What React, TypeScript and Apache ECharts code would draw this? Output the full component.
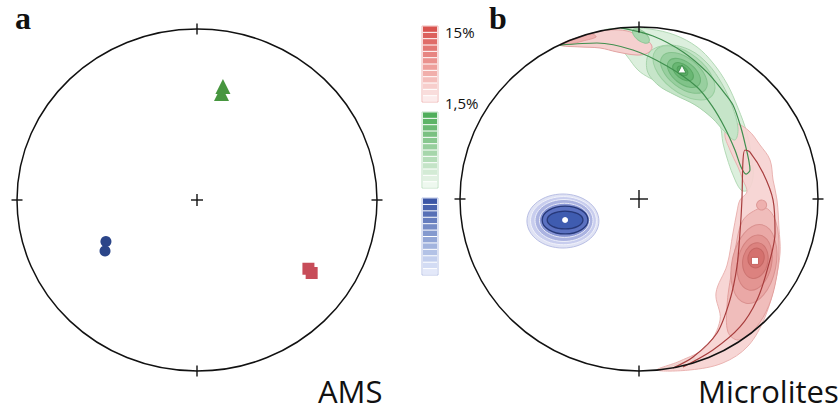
import React, { useEffect, useRef } from "react";
import * as echarts from "echarts";

// Projection units: the primitive circle has radius 100 in both panels.
const PROJ_R = 100;
const CENTER = [0, 0];

// ---- Panel a: AMS principal axes ----
const amsGreen = [[14.4, 66.4], [13.6, 62.3]];
const amsBlue = [[-50.6, -24.3], [-51.1, -29.8]];
const amsRed = [[61.9, -40.2], [63.7, -42.7]];

// ---- Panel b: microlite orientation density contours ----
const greenOuter = [[-20.1, 97.7], [-7.8, 99.4], [6.1, 98.8], [20.1, 95.3], [32.4, 88.4], [41.3, 79.1], [49.2, 66.9], [55.3, 52.9], [60.3, 38.4], [63.1, 23.8], [63.7, 12.2], [60.9, 5.2], [57.0, 5.2], [52.5, 14.0], [49.2, 23.8], [46.9, 32.6], [45.3, 43.0], [40.8, 51.2], [30.2, 57.0], [19.0, 64.0], [6.1, 70.3], [-0.6, 75.0], [-6.7, 83.1], [-13.4, 91.3]];
const greenMid = [[6.1, 85.5], [16.2, 89.5], [28.5, 86.6], [38.5, 78.5], [46.4, 66.9], [52.0, 54.1], [55.3, 41.3], [53.6, 34.3], [48.0, 39.0], [40.8, 47.1], [31.3, 54.7], [20.1, 60.5], [10.6, 66.3], [4.5, 75.0]];
const greenBottom = [[10.1, -99.4], [18.4, -97.1], [27.4, -93.6], [31.3, -92.4], [30.2, -95.3], [22.9, -97.7]];
const redOuter = [[52.5, 44.2], [60.9, 40.1], [67.6, 31.4], [73.2, 22.7], [74.9, 11.0], [77.1, -0.6], [78.2, -16.9], [78.8, -31.4], [76.0, -48.8], [70.4, -68.6], [60.9, -85.5], [46.9, -95.3], [28.5, -99.4], [10.1, -99.4], [22.9, -94.2], [37.4, -86.0], [45.3, -70.3], [43.0, -54.7], [49.2, -38.4], [52.5, -19.8], [54.7, -7.6], [56.4, -0.6], [60.3, 4.1], [58.1, 11.0], [55.3, 18.6], [50.8, 28.5], [48.0, 38.4]];
const redMid = [[63.1, -7.6], [70.9, -5.2], [76.5, -13.4], [78.2, -29.7], [76.0, -50.0], [70.9, -65.7], [63.1, -77.3], [55.3, -82.0], [49.7, -77.3], [49.2, -61.6], [51.4, -44.2], [54.2, -26.7], [57.5, -13.4]];
const redTongue = [[-44.1, 89.5], [-36.9, 93.0], [-25.7, 96.5], [-16.2, 98.3], [-6.7, 97.7], [-1.1, 95.3], [4.5, 92.4], [7.3, 88.4], [5.0, 84.9], [-1.1, 83.7], [-12.3, 85.5], [-21.8, 87.8], [-33.0, 88.4]];
const redTongueCore = [[-42.5, 90.1], [-34.6, 93.2], [-26.3, 95.9], [-24.0, 94.2], [-31.3, 91.9], [-38.5, 90.1]];

// ellipse levels: [cx, cy, rx, ry]
const blueLevels = [[-42.5, -12.8, 20.1, 15.7], [-42.2, -12.6, 18.4, 14.0], [-41.9, -12.5, 16.2, 12.2], [-41.6, -12.4, 14.0, 9.9], [-41.3, -12.2, 12.8, 8.1], [-41.3, -12.2, 10.0, 5.2]];
const greenCore = [[1.1, 94.8, 5.6, 2.9], [25.1, 73.3, 20.2, 11.4], [25.1, 73.3, 15.2, 8.6], [25.1, 73.3, 10.7, 6.3], [24.6, 74.0, 6.7, 4.0], [24.3, 74.5, 3.4, 2.3]];
const redCore = [[68.5, -3.5, 2.8, 2.9], [64.2, -37.8, 12.3, 23.3], [64.6, -37.0, 9.5, 16.3], [65.0, -35.8, 7.0, 10.5], [65.4, -34.3, 4.5, 5.8]];

// great-circle / cone traces
const greenTraceA = [[-10.1, 99.5], [7.8, 94.8], [24.6, 85.5], [38.0, 73.8], [46.4, 63.4], [52.5, 54.7], [57.0, 41.3], [59.8, 29.7], [61.5, 21.5], [62.0, 16.9], [59.8, 14.5], [57.0, 18.6], [53.6, 28.5], [48.0, 41.3], [40.8, 54.1], [32.4, 65.1], [15.6, 77.3], [-3.4, 86.6], [-23.5, 90.7], [-44.1, 89.5]];
const redTrace = [[19.0, -98.3], [30.2, -91.9], [43.6, -77.9], [50.8, -58.7], [54.7, -39.5], [56.4, -19.8], [57.5, -0.6], [58.1, 22.7], [59.2, 28.5], [62.0, 27.3], [69.3, 15.1], [74.9, -0.6], [76.0, -19.8], [72.1, -39.5], [65.9, -58.7], [56.4, -74.4], [41.3, -87.8], [24.6, -97.7]];

// mean directions in panel b
const meanGreen = [[24.0, 75.6]];
const meanRed = [[64.8, -36.0]];
const meanBlue = [[-41.3, -12.2]];

// colour scales of the legend bars (top = 15%, bottom = 1,5%)
const redScale = ["#d9534f", "#dc605c", "#e06c68", "#e37874", "#e78581", "#ea928e", "#eea09c", "#f1afab", "#f4bebb", "#f7cecc", "#f9dddc", "#fcebeb"];
const greenScale = ["#4fae5a", "#5db466", "#6bba73", "#7ac181", "#88c88f", "#97cf9d", "#a6d6ab", "#b5ddb9", "#c4e4c7", "#d3ebd5", "#e1f1e2", "#eef8ef"];
const blueScale = ["#3c56a6", "#4a63ae", "#5870b6", "#667dbe", "#758bc6", "#8499ce", "#93a6d6", "#a3b4de", "#b3c2e6", "#c3cfee", "#d3dcf4", "#e3e8f9"];
const scaleLabels = ["15%", "1,5%"];
const panelLabels = ["a", "b"];
const panelTitles = ["AMS", "Microlites"];

const R = 1; // right panel axis index

function polySeries(pts: number[][], fill: string, stroke: string, z: number, opacity = 1) {
  return {
    type: "custom",
    xAxisIndex: R,
    yAxisIndex: R,
    data: pts,
    z,
    silent: true,
    renderItem: (params: any, api: any) => {
      if (params.dataIndex !== 0) return null;
      const points = pts.map((p) => api.coord(p));
      return {
        type: "polygon",
        shape: { points, smooth: 0.35 },
        style: { fill, stroke, lineWidth: 1, opacity },
      };
    },
  };
}

function ellipseSeries(items: number[][], fills: string[], strokes: string[], rotation: number, z: number, widths?: number[]) {
  return {
    type: "custom",
    xAxisIndex: R,
    yAxisIndex: R,
    data: items,
    z,
    silent: true,
    renderItem: (params: any, api: any) => {
      const i = params.dataIndex;
      const c = api.coord([api.value(0), api.value(1)]);
      const s = api.size([api.value(2), api.value(3)]);
      return {
        type: "ellipse",
        x: c[0],
        y: c[1],
        rotation,
        shape: { cx: 0, cy: 0, rx: s[0], ry: s[1] },
        style: { fill: fills[i], stroke: strokes[i], lineWidth: widths ? widths[i] : 1 },
      };
    },
  };
}

function traceSeries(pts: number[][], color: string, z: number) {
  return {
    type: "line",
    xAxisIndex: R,
    yAxisIndex: R,
    data: pts,
    showSymbol: false,
    smooth: 0.3,
    z,
    silent: true,
    lineStyle: { color, width: 1.2 },
  };
}

function frameSeries(idx: number, cross: number) {
  return {
    type: "custom",
    xAxisIndex: idx,
    yAxisIndex: idx,
    data: [CENTER],
    z: 20,
    silent: true,
    renderItem: (params: any, api: any) => {
      const c = api.coord(CENTER);
      const s = api.size([PROJ_R, PROJ_R]);
      const rx = s[0];
      const ry = s[1];
      const t = 5.5;
      const st = { stroke: "#111", lineWidth: 1.4 };
      const ln = (x1: number, y1: number, x2: number, y2: number) => ({ type: "line", shape: { x1, y1, x2, y2 }, style: st });
      return {
        type: "group",
        children: [
          { type: "ellipse", shape: { cx: c[0], cy: c[1], rx, ry }, style: { fill: "none", stroke: "#111", lineWidth: 1.5 } },
          ln(c[0], c[1] - ry - t, c[0], c[1] - ry + t),
          ln(c[0], c[1] + ry - t, c[0], c[1] + ry + t),
          ln(c[0] - rx - t, c[1], c[0] - rx + t, c[1]),
          ln(c[0] + rx - t, c[1], c[0] + rx + t, c[1]),
          ln(c[0] - cross, c[1], c[0] + cross, c[1]),
          ln(c[0], c[1] - cross, c[0], c[1] + cross),
        ],
      };
    },
  };
}

function colorBar(colors: string[], x: number, y: number, w: number, h: number, border: string) {
  const n = colors.length;
  const seg = h / n;
  const children: any[] = [
    { type: "rect", shape: { x, y, width: w, height: h }, style: { fill: "#fff", stroke: border, lineWidth: 1 } },
  ];
  colors.forEach((c, i) => {
    children.push({ type: "rect", shape: { x: x + 1, y: y + i * seg + 0.5, width: w - 2, height: seg - 1 }, style: { fill: c } });
  });
  return { type: "group", children };
}

export default function App() {
  const ref = useRef<HTMLDivElement>(null);
  useEffect(() => {
    if (!ref.current) return;
    const chart = echarts.init(ref.current, null, { renderer: "svg" });
    const axis = (g: number) => ({ type: "value", gridIndex: g, min: -PROJ_R, max: PROJ_R, show: false });
    const sans = '"Open Sans", "Liberation Sans", sans-serif';
    const serif = 'bold 32px "Liberation Serif", "DejaVu Serif", serif';
    const txt = (text: string, x: number, y: number, font: string) => ({
      type: "text",
      x,
      y,
      style: { text, font, fill: "#111", textAlign: "left", textVerticalAlign: "middle", verticalAlign: "middle" },
    });
    chart.setOption({
      animation: false,
      backgroundColor: "#fff",
      grid: [
        { left: 17, top: 29, width: 360, height: 342, containLabel: false },
        { left: 460, top: 27, width: 358, height: 344, containLabel: false },
      ],
      xAxis: [axis(0), axis(1)],
      yAxis: [axis(0), axis(1)],
      series: [
        // panel a
        { type: "scatter", xAxisIndex: 0, yAxisIndex: 0, data: amsGreen, symbol: "triangle", symbolSize: 15, itemStyle: { color: "#47963f", opacity: 1 }, z: 5 },
        { type: "scatter", xAxisIndex: 0, yAxisIndex: 0, data: amsBlue, symbol: "circle", symbolSize: 11, itemStyle: { color: "#2b4589", opacity: 1 }, z: 5 },
        { type: "scatter", xAxisIndex: 0, yAxisIndex: 0, data: amsRed, symbol: "rect", symbolSize: 12, itemStyle: { color: "#c74c59", opacity: 1 }, z: 5 },
        frameSeries(0, 6),
        // panel b contours
        polySeries(greenOuter, "#dcefdd", "#b3dab6", 2),
        polySeries(greenBottom, "#dcefdd", "#5ea26a", 2),
        polySeries(redOuter, "#f6d2d1", "#e8afad", 3, 0.92),
        polySeries(redTongue, "#f5d0cf", "#e2a3a2", 3),
        polySeries(redTongueCore, "#eeb2b1", "#e39f9e", 3),
        polySeries(greenMid, "#c6e5c9", "#a7d3ab", 4),
        polySeries(redMid, "#f0bdbb", "#e3a09e", 4),
        ellipseSeries(greenCore, ["#aad7af", "#b2dbb6", "#98cf9f", "#80c389", "#69b773", "#5aac65"], ["#8fc797", "#9bd0a1", "#84c28c", "#6db577", "#5aa864", "#4f9e5a"], -0.66, 5),
        ellipseSeries(redCore, ["#eeb0ae", "#eaa8a6", "#e39592", "#dc827f", "#d4716e"], ["#dd9896", "#da9290", "#d48380", "#cc7471", "#c46663"], -0.2, 5),
        ellipseSeries(blueLevels, ["#e0e3f4", "#c8cdee", "#abb3e1", "#8794d3", "#5b71c1", "#3f5cb0"], ["#b9bfe5", "#f2f3fb", "#eef0fa", "#e8eaf7", "#27397a", "#27397a"], 0, 5, [1, 1, 1, 1, 1.3, 1.3]),
        traceSeries(greenTraceA, "#3f8f4e", 6),
        traceSeries(redTrace, "#a73d3d", 6),
        { type: "scatter", xAxisIndex: R, yAxisIndex: R, data: meanGreen, symbol: "triangle", symbolSize: 8, itemStyle: { color: "#fff", borderColor: "#3d8f4a", borderWidth: 1, opacity: 1 }, z: 7 },
        { type: "scatter", xAxisIndex: R, yAxisIndex: R, data: meanRed, symbol: "rect", symbolSize: 7, itemStyle: { color: "#fff", borderColor: "#c0504d", borderWidth: 0.8, opacity: 1 }, z: 7 },
        { type: "scatter", xAxisIndex: R, yAxisIndex: R, data: meanBlue, symbol: "circle", symbolSize: 6, itemStyle: { color: "#fff", opacity: 1 }, z: 7 },
        frameSeries(1, 9),
      ],
      graphic: [
        colorBar(redScale, 422, 26, 16, 76, "#f0b8b6"),
        colorBar(greenScale, 422, 112, 16, 76, "#bfe0c3"),
        colorBar(blueScale, 422, 198, 16, 77, "#b7c2e6"),
        txt(scaleLabels[0], 445, 31.5, `15px ${sans}`),
        txt(scaleLabels[1], 445, 102.5, `15px ${sans}`),
        txt(panelLabels[0], 15, 18, serif),
        txt(panelLabels[1], 489, 18, serif),
        txt(panelTitles[0], 318, 391, `31px ${sans}`),
        txt(panelTitles[1], 698, 391, `31px ${sans}`),
      ],
    });
    return () => chart.dispose();
  }, []);
  return <div ref={ref} style={{ position: "absolute", left: 0, top: 0, width: 840, height: 414 }} />;
}
